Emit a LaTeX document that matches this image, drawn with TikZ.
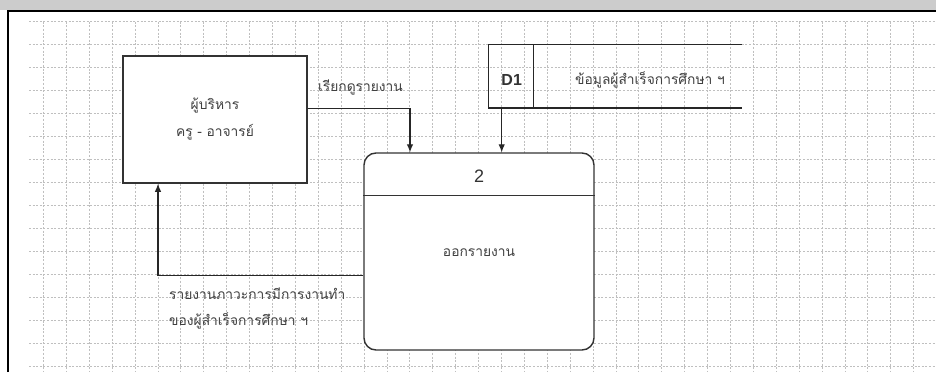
\documentclass[tikz,border=0pt]{standalone}
\usepackage{fontspec}
\setmainfont{Liberation Sans}
\newfontfamily\thaifont[Script=Thai]{Loma}
\usetikzlibrary{arrows.meta}
\begin{document}
\begin{tikzpicture}[x=1pt,y=-1pt,
  gridline/.style={draw=gray!50, line width=0.6pt, dash pattern=on 2pt off 1.6pt},
  thaitext/.style={font=\thaifont\fontsize{13.8}{27}\selectfont, text=black!75, inner sep=0pt},
  entity/.style={draw=black!80, line width=1.6pt, fill=white, minimum width=184pt, minimum height=127pt, inner sep=0pt, align=center, thaitext},
  procbox/.style={draw=black!80, line width=1.4pt, fill=white, rounded corners=12pt, minimum width=230pt, minimum height=197pt, inner sep=0pt},
  flow/.style={draw=black!85, line width=1.1pt, -{Latex[length=8pt,width=6.5pt]}},
  storeline/.style={draw=black!85, line width=1.2pt}
]
\useasboundingbox (0,0) rectangle (936,372);
\fill[white] (0,0) rectangle (936,372);
% top band and frame
\fill[gray!40] (0,0) rectangle (936,10);
% grid
\foreach \k in {0,...,15}{
  \draw[gridline] (29,21.7+23*\k) -- (936,21.7+23*\k);
}
\foreach \k in {0,...,38}{
  \draw[gridline] (43.3+22.9*\k,21.7) -- (43.3+22.9*\k,372);
}
\draw[line width=2pt, black] (7.5,372) -- (7.5,11) -- (936,11);

% external entity
\node[entity] (ent) at (215,119.5) {ผู้บริหาร\\ครู - อาจารย์};

% process
\node[procbox] (proc) at (479,251.5) {};
\draw[draw=black!80, line width=1.4pt] (proc.west |- 0,195.7) -- (proc.east |- 0,195.7);
\node[font=\fontsize{18}{20}\selectfont, text=black!80] (pnum) at (479,176.7) {2};
\node[thaitext] (pname) at (479,252.7) {ออกรายงาน};

% data store
\node[minimum width=252.7pt, minimum height=63.4pt, inner sep=0pt] (store) at (615.35,76) {};
\draw[storeline] (store.north east) -- (store.north west) -- (store.south west) -- (store.south east);
\draw[storeline] (store.north west) ++(45,0) coordinate (sdiv) -- (sdiv |- store.south);
\node[font=\bfseries\fontsize{16}{18}\selectfont, text=black!80] (d1) at (511.7,80) {D1};
\node[thaitext] (d1lbl) at (650,80) {ข้อมูลผู้สำเร็จการศึกษา ฯ};

% flows
\draw[flow] (ent.east |- 0,108.3) -| (proc.north -| 410,0);
\node[thaitext, anchor=west] (lbl1) at (318,87) {เรียกดูรายงาน};

\coordinate (sout) at (501.7,107.7);
\draw[flow] (sout) -- (sout |- proc.north);

\draw[flow] (proc.west |- 0,275.7) -| (ent.south -| 158,0);
\node[thaitext, anchor=west] (lbl2a) at (169,293.3) {รายงานภาวะการมีการงานทำ};
\node[thaitext, anchor=west] (lbl2b) at (169,320.7) {ของผู้สำเร็จการศึกษา ฯ};
\end{tikzpicture}
\end{document}
